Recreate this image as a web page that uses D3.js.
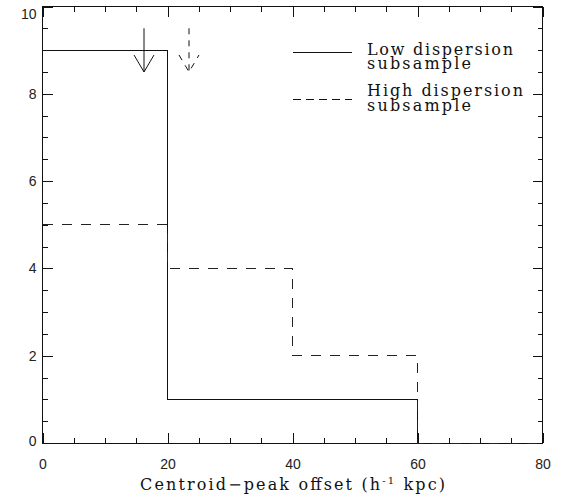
<!DOCTYPE html>
<html>
<head>
<meta charset="utf-8">
<script src="https://cdn.jsdelivr.net/npm/d3@7"></script>
<style>
  body { margin: 0; background: #fff; }
  .tick text { font-family: "Liberation Sans", sans-serif; font-size: 14px; fill: #222; }
  .lbl { font-family: "DejaVu Serif", serif; font-size: 16px; fill: #111; }
</style>
</head>
<body>
<div id="chart"></div>
<script>
// Histogram data
const binEdges = [0, 20, 40, 60, 80];
const lowCounts = [9, 1, 1, 0];   // low dispersion subsample
const highCounts = [5, 4, 2, 0];  // high dispersion subsample
const xTicks = [0, 20, 40, 60, 80];
const yTicks = [0, 2, 4, 6, 8, 10];
// Median markers (arrows), offset in h^-1 kpc
const lowArrowX = 16.1;
const highArrowX = 23.4;

const W = 566, H = 502;
const margin = { top: 6.5, right: 23.5, bottom: 59, left: 42.5 };
const width = W - margin.left - margin.right;
const height = H - margin.top - margin.bottom;

const svg = d3.select("#chart").append("svg")
    .attr("width", W)
    .attr("height", H)
    .append("g")
    .attr("transform", `translate(${margin.left},${margin.top})`);

const x = d3.scaleLinear().domain([0, 80]).range([0, width]);
const y = d3.scaleLinear().domain([0, 10]).range([height, 0]);

const minorX = d3.range(0, 80.1, 5);
const minorY = d3.range(0, 10.01, 0.5);

// Axes with inward ticks on all four sides
function drawAxis(axisFn, scale, transform, major, minor, labels) {
    const gMinor = svg.append("g").attr("transform", transform)
        .call(axisFn(scale).tickValues(minor).tickSize(-5).tickFormat(""));
    const gMajor = svg.append("g").attr("transform", transform)
        .call(axisFn(scale).tickValues(major).tickSize(-10).tickPadding(8)
            .tickFormat(labels ? d3.format("d") : ""));
    [gMinor, gMajor].forEach(g => {
        g.select(".domain").remove();
        g.selectAll("line").attr("stroke", "#111").attr("shape-rendering", "crispEdges");
    });
    return gMajor;
}

const xb = drawAxis(d3.axisBottom, x, `translate(0,${height})`, xTicks, minorX, true);
xb.selectAll("text").attr("dy", "1.25em");
drawAxis(d3.axisTop, x, "translate(0,0)", xTicks, minorX, false);
const yl = drawAxis(d3.axisLeft, y, "translate(0,0)", yTicks, minorY, true);
yl.selectAll("text")
    .attr("x", -6)
    .attr("dy", d => d === 10 ? "0.85em" : d === 0 ? "0.15em" : "0.32em");
drawAxis(d3.axisRight, y, `translate(${width},0)`, yTicks, minorY, false);

// Frame
svg.append("rect")
    .attr("width", width)
    .attr("height", height)
    .attr("fill", "none")
    .attr("stroke", "#111")
    .attr("shape-rendering", "crispEdges");

// Step histograms
const stepLine = d3.line()
    .x(d => x(d[0]))
    .y(d => y(d[1]))
    .curve(d3.curveStepAfter);

function stepPoints(counts) {
    const pts = counts.map((c, i) => [binEdges[i], c]);
    pts.push([binEdges[binEdges.length - 1], counts[counts.length - 1]]);
    return pts;
}

svg.append("path")
    .attr("d", stepLine(stepPoints(lowCounts)))
    .attr("fill", "none")
    .attr("stroke", "#111")
    .attr("shape-rendering", "crispEdges");

svg.append("path")
    .attr("d", stepLine(stepPoints(highCounts)))
    .attr("fill", "none")
    .attr("stroke", "#222")
    .attr("stroke-dasharray", "10,9")
    .attr("shape-rendering", "crispEdges");

// Arrows
function arrow(xv, dash) {
    const ax = Math.round(x(xv)) + 0.5;
    const y0 = y(9.5), y1 = y(8.5);
    const g = svg.append("g")
        .attr("fill", "none")
        .attr("stroke", "#111")
        .attr("stroke-dasharray", dash);
    g.append("line").attr("x1", ax).attr("x2", ax).attr("y1", y0).attr("y2", y1);
    g.append("path").attr("d", `M${ax - 10},${y1 - 17}L${ax},${y1}L${ax + 10},${y1 - 17}`);
}
arrow(lowArrowX, null);
arrow(highArrowX, "6,6");

// Legend
const legend = svg.append("g").attr("transform", `translate(${-margin.left},${-margin.top})`);
legend.append("line")
    .attr("x1", 293).attr("x2", 352).attr("y1", 52.5).attr("y2", 52.5)
    .attr("stroke", "#111");
legend.append("line")
    .attr("x1", 293).attr("x2", 352).attr("y1", 99.5).attr("y2", 99.5)
    .attr("stroke", "#111")
    .attr("stroke-dasharray", "8,5");

const legendText = [
    { t: "Low dispersion", y: 55, w: 146 },
    { t: "subsample", y: 69, w: 104 },
    { t: "High dispersion", y: 96, w: 156 },
    { t: "subsample", y: 111, w: 104 }
];
legend.selectAll("text.leg")
    .data(legendText)
    .join("text")
    .attr("class", "lbl leg")
    .attr("x", 367)
    .attr("y", d => d.y)
    .attr("textLength", d => d.w)
    .attr("lengthAdjust", "spacing")
    .text(d => d.t);

// X axis title
const title = legend.append("text")
    .attr("class", "lbl")
    .attr("x", 140)
    .attr("y", 490)
    .attr("textLength", 305)
    .attr("lengthAdjust", "spacing");
title.append("tspan").text("Centroid\u2212peak offset (h");
title.append("tspan").attr("dy", -6).attr("font-size", 10).text("-1");
title.append("tspan").attr("dy", 6).text(" kpc)");
</script>
</body>
</html>
